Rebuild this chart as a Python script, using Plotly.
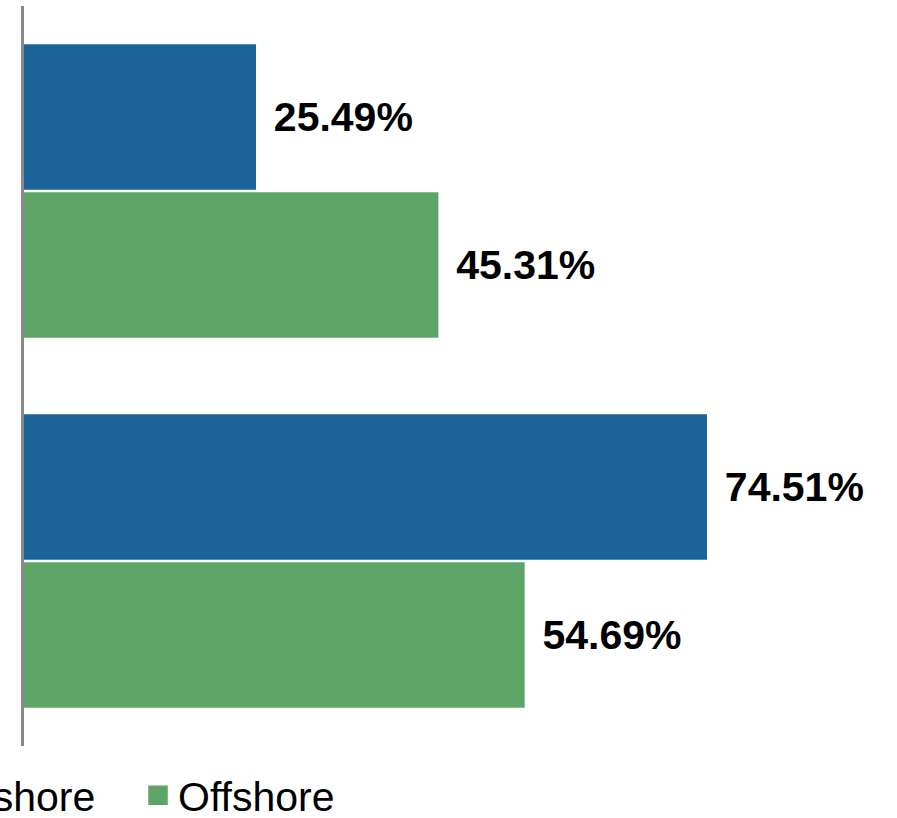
import plotly.graph_objects as go

# Shares by category for each installation type
categories = ["Category A", "Category B"]
onshore = [25.49, 74.51]
offshore = [45.31, 54.69]

BLUE = "#1B649A"
GREEN = "#5FA467"
FONT = "Liberation Sans, Arial, sans-serif"


def labels(values):
    # leading spaces push the value label a little away from the bar end
    return ["\u00a0\u200a" + f"{v:.2f}%" for v in values]


fig = go.Figure()

for name, values, color, group in [
    ("Onshore", onshore, BLUE, "on"),
    ("Offshore", offshore, GREEN, "off"),
]:
    fig.add_trace(go.Bar(
        y=categories,
        x=values,
        orientation="h",
        name=name,
        marker=dict(color=color, line=dict(width=0)),
        text=labels(values),
        textposition="outside",
        textfont=dict(family=FONT, size=41, color="black", weight="bold"),
        constraintext="none",
        cliponaxis=False,
        legendgroup=group,
        showlegend=False,
        hoverinfo="x+y+name",
    ))

# legend entries with larger square swatches
for name, color, group in [("Onshore", BLUE, "on"), ("Offshore", GREEN, "off")]:
    fig.add_trace(go.Scatter(
        x=[None], y=[None],
        mode="markers",
        name=name,
        legendgroup=group,
        marker=dict(symbol="square", size=16, color=color,
                    line=dict(color=color, width=3.5)),
    ))

fig.update_layout(
    width=897,
    height=818,
    margin=dict(l=24, r=0, t=6, b=72, autoexpand=False),
    barmode="group",
    bargap=0.2,
    bargroupgap=0.016,
    paper_bgcolor="white",
    plot_bgcolor="white",
    font=dict(family=FONT, color="black"),
    xaxis=dict(
        range=[0.272, 95.16],
        visible=False,
        showgrid=False,
        zeroline=False,
    ),
    yaxis=dict(
        autorange="reversed",
        showline=True,
        linecolor="#888888",
        linewidth=3,
        showgrid=False,
        zeroline=False,
        ticks="",
        showticklabels=False,
    ),
    legend=dict(
        orientation="h",
        x=-0.1443,
        xanchor="left",
        y=-0.0216,
        yanchor="top",
        font=dict(family=FONT, size=41, color="black"),
        entrywidth=195,
        entrywidthmode="pixels",
        bgcolor="rgba(0,0,0,0)",
    ),
    showlegend=True,
)

fig.write_html("out.html")
